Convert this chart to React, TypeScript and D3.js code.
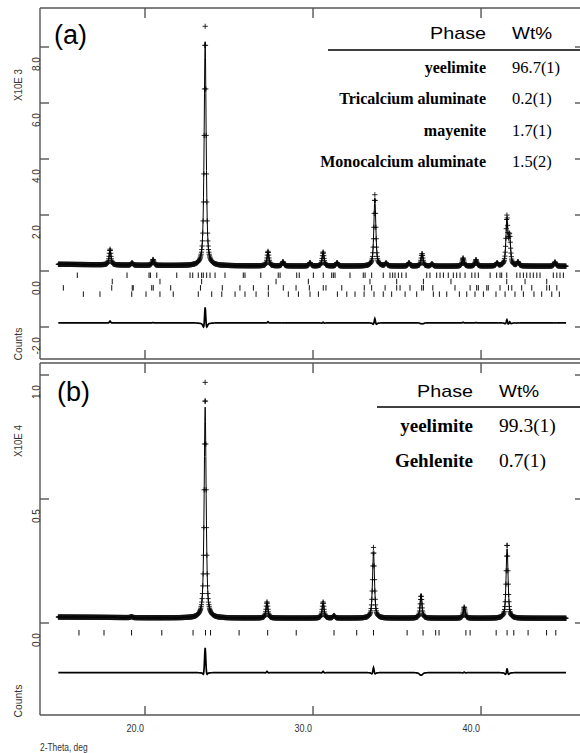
import React from 'react';
import * as d3 from 'd3';

const W = 580;
const H = 753;

// ---------- shared axis data ----------
const xTicks = [20, 30, 40];
const xTickLabels = ['20.0', '30.0', '40.0'];
const scanStart = 14.84;
const scanEnd = 45.06;
const scanStep = 0.02;

// ---------- panel (a) ----------
const aYTicks = [-2000, 0, 2000, 4000, 6000, 8000];
const aYTickLabels = ['-2.0', '0.0', '2.0', '4.0', '6.0', '8.0'];
const aBgPos = [14.8, 17, 20, 25, 30, 35, 40, 45.1];
const aBgVal = [240, 225, 200, 185, 175, 172, 172, 170];
const aPeakPos = [17.92, 19.23, 20.48, 23.58, 27.32, 28.21, 29.82, 30.6, 31.43, 33.68, 34.35, 35.71, 36.49, 37.08, 38.93, 39.7, 40.95, 41.54, 41.7, 42.2, 44.4];
const aPeakCalc = [500, 80, 200, 8000, 480, 150, 120, 480, 120, 2400, 100, 120, 480, 80, 270, 220, 100, 1600, 950, 140, 150];
const aPeakObs = [560, 80, 210, 8550, 520, 150, 120, 500, 120, 2550, 100, 120, 450, 80, 290, 230, 100, 1720, 1000, 140, 150];
const aDiffOffset = -1850;
const aTicks1 = [15.97, 18.93, 20.24, 20.32, 20.7, 21.89, 22.68, 22.84, 23.17, 23.37, 23.47, 23.67, 23.87, 24.17, 24.76, 25.85, 25.95, 26.89, 27.93, 28.04, 29.03, 29.18, 30.02, 30.61, 31.11, 31.21, 31.31, 32.2, 32.99, 33.1, 33.49, 34.18, 34.58, 34.74, 34.88, 35.08, 35.28, 35.54, 36.77, 36.96, 37.36, 37.56, 37.76, 38.05, 38.35, 38.55, 38.75, 39.05, 39.45, 39.64, 39.84, 40.54, 40.93, 41.13, 41.23, 41.53, 42.13, 42.32, 42.52, 42.72, 42.92, 43.11, 43.32, 43.51, 44.3, 44.51, 44.7, 44.9];
const aTicks2 = [18.05, 20.89, 23.37, 27.8, 29.72, 33.39, 34.98, 36.57, 38.21, 41.53, 42.62, 43.91];
const aTicks3 = [15.14, 18.02, 19.24, 19.3, 20.4, 20.49, 21.53, 23.3, 24.6, 25.65, 26.45, 27.34, 28.23, 28.99, 29.78, 30.61, 30.77, 31.71, 33.05, 33.49, 34.29, 34.98, 35.18, 35.77, 36.47, 36.57, 37.13, 38.45, 39.35, 39.74, 39.84, 40.34, 40.43, 41.13, 41.63, 41.83, 42.42, 43.02, 43.91, 44.07, 44.51];
const aTicks4 = [16.33, 17.32, 19.21, 20.06, 20.89, 21.68, 23.17, 23.97, 24.57, 25.36, 25.95, 26.61, 27.34, 28.53, 29.13, 29.82, 30.32, 31.45, 32.01, 32.5, 33.04, 33.63, 34.18, 34.68, 35.48, 36.17, 37.16, 37.52, 37.96, 38.71, 39.15, 39.64, 40.14, 40.89, 41.43, 42.02, 42.52, 43.15, 43.61, 44.21, 44.66];
const aPhases = ['yeelimite', 'Tricalcium aluminate', 'mayenite', 'Monocalcium aluminate'];
const aWt = ['96.7(1)', '0.2(1)', '1.7(1)', '1.5(2)'];

// ---------- panel (b) ----------
const bYTicks = [0, 5000, 10000];
const bYTickLabels = ['0.0', '0.5', '1.0'];
const bBgPos = [14.8, 17, 20, 25, 30, 35, 40, 45.1];
const bBgVal = [240, 230, 210, 200, 195, 195, 190, 190];
const bPeakPos = [19.2, 23.58, 27.26, 30.6, 31.25, 33.6, 36.43, 39.0, 41.55];
const bPeakCalc = [40, 8500, 600, 600, 100, 2650, 1000, 430, 2850];
const bPeakObs = [40, 9500, 650, 650, 100, 2850, 900, 450, 3000];
const bDiffOffset = -2000;
const bTicks1 = [16.07, 17.56, 19.2, 21.0, 22.86, 23.6, 23.9, 25.6, 27.3, 29.0, 31.25, 32.6, 33.6, 35.6, 36.55, 37.3, 37.5, 39.1, 39.35, 40.9, 41.55, 41.95, 42.8, 43.9, 44.45];
const bPhases = ['yeelimite', 'Gehlenite'];
const bWt = ['99.3(1)', '0.7(1)'];

// ---------- profile helpers ----------
const ETA = 0.7;
function pv(x: number, c: number, h: number, w: number) {
  const t = (x - c) / w;
  return h * (ETA / (1 + 4 * t * t) + (1 - ETA) * Math.exp(-4 * Math.LN2 * t * t));
}

function buildProfile(bgPos: number[], bgVal: number[], pos: number[], calc: number[], obs: number[]) {
  const bg = d3.scaleLinear().domain(bgPos).range(bgVal);
  const grid = d3.range(scanStart, scanEnd + 1e-9, scanStep);
  return grid.map((t) => {
    let c = bg(t);
    let o = bg(t);
    for (let i = 0; i < pos.length; i++) {
      c += pv(t, pos[i], calc[i], 0.14);
      o += pv(t, pos[i], obs[i], 0.13);
    }
    return { t, c, o };
  });
}

const x = d3.scaleLinear().domain([13.75, 45.89]).range([40, 580]);

type PanelProps = {
  yDomain: [number, number];
  yRange: [number, number];
  yTicks: number[];
  yTickLabels: string[];
  expLabel: string;
  bgPos: number[];
  bgVal: number[];
  pos: number[];
  calc: number[];
  obs: number[];
  diffOffset: number;
  tickRows: number[][];
  tickRowStart: number;
  tickRowGap: number;
  letter: string;
  letterY: number;
  letterX: number;
  phases: string[];
  wts: string[];
  legend: { headY: number; lineY: number; lineX0: number; rowY0: number; rowGap: number; nameX: number; wtX: number; size: number };
  showBottomLabels: boolean;
  countsY: number;
  expY: number;
};

function Panel(p: PanelProps) {
  const y = d3.scaleLinear().domain(p.yDomain).range(p.yRange);
  const prof = buildProfile(p.bgPos, p.bgVal, p.pos, p.calc, p.obs);
  const [yBot, yTop] = p.yRange;
  const y0 = y(0);

  const calcLine = d3.line<{ t: number; c: number }>().x((d) => x(d.t)).y((d) => y(d.c))(prof);
  const diffLine = d3.line<{ t: number; c: number; o: number }>().x((d) => x(d.t)).y((d) => y(d.o - d.c + p.diffOffset))(prof);
  const a = 2.6;
  const marks = prof
    .map((d) => {
      const px = x(d.t);
      const py = y(d.o);
      return `M${(px - a).toFixed(2)},${py.toFixed(2)}h${2 * a}M${px.toFixed(2)},${(py - a).toFixed(2)}v${2 * a}`;
    })
    .join('');

  const axisCol = '#555';
  return (
    <g>
      {/* frame */}
      <line x1={40} x2={580} y1={yTop} y2={yTop} stroke={axisCol} strokeWidth={1.4} />
      <line x1={40} x2={580} y1={yBot} y2={yBot} stroke={axisCol} strokeWidth={1.4} />
      <line x1={40} x2={40} y1={yTop} y2={yBot} stroke={axisCol} strokeWidth={1.4} />
      {xTicks.map((t) => (
        <g key={'xt' + t}>
          <line x1={x(t)} x2={x(t)} y1={yTop} y2={yTop + 10} stroke={axisCol} strokeWidth={1.4} />
          <line x1={x(t)} x2={x(t)} y1={yBot} y2={yBot - 9} stroke={axisCol} strokeWidth={1.4} />
        </g>
      ))}
      {p.yTicks.map((v, i) => (
        <g key={'yt' + v}>
          <line x1={40} x2={49} y1={y(v)} y2={y(v)} stroke={axisCol} strokeWidth={1.4} />
          <line x1={575} x2={580} y1={y(v)} y2={y(v)} stroke={axisCol} strokeWidth={1.4} />
          <text
            transform={`translate(39.5,${y(v) + 10}) rotate(-90) scale(0.88,1)`}
            textAnchor="end"
            fontFamily="Liberation Sans, Arial, sans-serif"
            fontSize={11.5}
            fill="#333"
          >
            {p.yTickLabels[i]}
          </text>
        </g>
      ))}
      <text transform={`translate(22,${p.expY}) rotate(-90) scale(0.85,1)`} textAnchor="middle" fontFamily="Liberation Sans, Arial, sans-serif" fontSize={11.5} fill="#333">
        {p.expLabel}
      </text>
      <text transform={`translate(22,${p.countsY}) rotate(-90) scale(0.9,1)`} textAnchor="middle" fontFamily="Liberation Sans, Arial, sans-serif" fontSize={11.5} fill="#333">
        Counts
      </text>

      {/* observed points */}
      <path d={marks} stroke="#111" strokeWidth={0.9} fill="none" />
      {/* calculated */}
      <path d={calcLine || ''} stroke="#000" strokeWidth={1} fill="none" />
      {/* difference */}
      <path d={diffLine || ''} stroke="#000" strokeWidth={1.7} fill="none" />

      {/* reflection ticks */}
      {p.tickRows.map((row, ri) =>
        row.map((t, k) => (
          <line
            key={`r${ri}-${k}`}
            x1={x(t)}
            x2={x(t)}
            y1={y0 + p.tickRowStart + ri * p.tickRowGap}
            y2={y0 + p.tickRowStart + ri * p.tickRowGap + 5.5}
            stroke="#111"
            strokeWidth={1}
          />
        ))
      )}

      {/* panel letter */}
      <text x={p.letterX} y={p.letterY} fontFamily="Liberation Sans, Arial, sans-serif" fontSize={27} fill="#000">
        {p.letter}
      </text>

      {/* legend table */}
      <text x={p.legend.nameX} y={p.legend.headY} textAnchor="end" fontFamily="Liberation Sans, Arial, sans-serif" fontSize={17} fill="#000" textLength={56} lengthAdjust="spacingAndGlyphs">
        Phase
      </text>
      <text x={p.legend.wtX} y={p.legend.headY} fontFamily="Liberation Sans, Arial, sans-serif" fontSize={17} fill="#000" textLength={40} lengthAdjust="spacingAndGlyphs">
        Wt%
      </text>
      <line x1={p.legend.lineX0} x2={580} y1={p.legend.lineY} y2={p.legend.lineY} stroke="#000" strokeWidth={1.4} />
      {p.phases.map((ph, i) => (
        <g key={'ph' + i}>
          <text x={p.legend.nameX} y={p.legend.rowY0 + i * p.legend.rowGap} textAnchor="end" fontFamily="Liberation Serif, Times New Roman, serif" fontWeight="bold" fontSize={p.legend.size} fill="#000">
            {ph}
          </text>
          <text x={p.legend.wtX} y={p.legend.rowY0 + i * p.legend.rowGap} fontFamily="Liberation Serif, Times New Roman, serif" fontSize={p.legend.size + 0.5} fill="#000">
            {p.wts[i]}
          </text>
        </g>
      ))}

      {p.showBottomLabels &&
        xTicks.map((t, i) => (
          <text key={'xl' + t} transform={`translate(${x(t) - 1},${yBot + 17}) scale(0.82,1)`} textAnchor="end" fontFamily="Liberation Sans, Arial, sans-serif" fontSize={11} fill="#333">
            {xTickLabels[i]}
          </text>
        ))}
    </g>
  );
}

export default function App() {
  return (
    <svg width={W} height={H} style={{ position: 'absolute', left: 0, top: 0, background: '#fff' }}>
      <rect x={0} y={0} width={W} height={H} fill="#fff" />
      <Panel
        yDomain={[-3143, 9393]}
        yRange={[359, 8]}
        yTicks={aYTicks}
        yTickLabels={aYTickLabels}
        expLabel="X10E 3"
        bgPos={aBgPos}
        bgVal={aBgVal}
        pos={aPeakPos}
        calc={aPeakCalc}
        obs={aPeakObs}
        diffOffset={aDiffOffset}
        tickRows={[aTicks1, aTicks2, aTicks3, aTicks4]}
        tickRowStart={1.5}
        tickRowGap={6.3}
        letter="(a)"
        letterX={54}
        letterY={44}
        phases={aPhases}
        wts={aWt}
        legend={{ headY: 39, lineY: 50, lineX0: 328, rowY0: 73, rowGap: 31.3, nameX: 486, wtX: 512, size: 16 }}
        showBottomLabels={false}
        countsY={344}
        expY={85}
      />
      <Panel
        yDomain={[-3710, 10484]}
        yRange={[715, 363]}
        yTicks={bYTicks}
        yTickLabels={bYTickLabels}
        expLabel="X10E 4"
        bgPos={bBgPos}
        bgVal={bBgVal}
        pos={bPeakPos}
        calc={bPeakCalc}
        obs={bPeakObs}
        diffOffset={bDiffOffset}
        tickRows={[bTicks1]}
        tickRowStart={7}
        tickRowGap={6}
        letter="(b)"
        letterX={57}
        letterY={401}
        phases={bPhases}
        wts={bWt}
        legend={{ headY: 397, lineY: 407, lineX0: 377, rowY0: 432, rowGap: 35, nameX: 473, wtX: 499, size: 19 }}
        showBottomLabels={true}
        countsY={701}
        expY={441}
      />
      <text transform="translate(40,751) scale(0.8,1)" fontFamily="Liberation Sans, Arial, sans-serif" fontSize={10.5} fill="#333">
        2-Theta, deg
      </text>
    </svg>
  );
}
